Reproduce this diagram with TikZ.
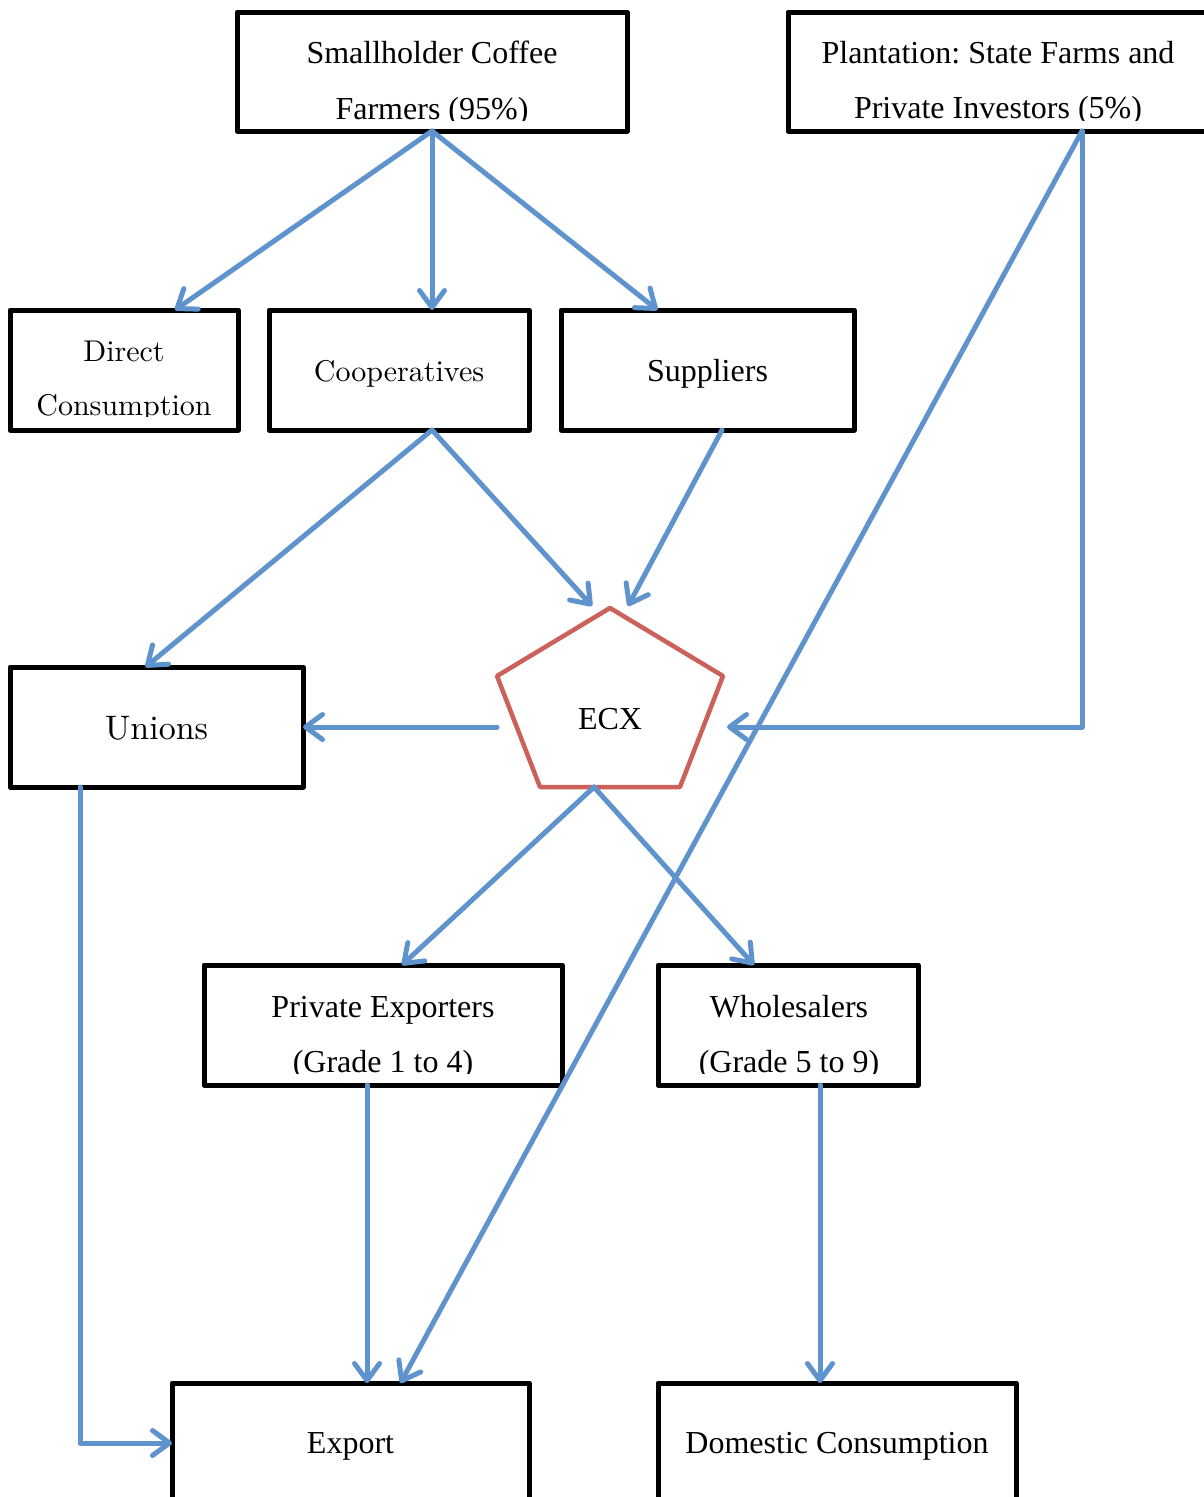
\documentclass[tikz,border=0pt]{standalone}
\usepackage{fontspec}
\newfontfamily\tnr{Liberation Serif}
\newfontfamily\lmten{lmroman10-regular.otf}
\usetikzlibrary{arrows.meta,calc}
\definecolor{arrblue}{RGB}{95,147,205}
\definecolor{ecxred}{RGB}{203,97,90}
\frenchspacing
\begin{document}
\begin{tikzpicture}[x=1pt,y=-1pt,
  box/.style={draw=black,line width=5pt,line join=round,rectangle,inner sep=0pt,outer sep=0pt},
  txt/.style={anchor=base,inner sep=0pt,outer sep=0pt,font=\tnr\fontsize{32}{38}\selectfont},
  lmtxt/.style={anchor=base,inner sep=0pt,outer sep=0pt,font=\lmten\fontsize{30}{36}\selectfont},
  arr/.style={draw=arrblue,line width=5pt,line cap=round,line join=round,
    -{Straight Barb[round,length=17pt,width=25pt]}}]
\useasboundingbox[fill=white] (0,0) rectangle (1204,1497);

% boxes
\node[box,minimum width=390pt,minimum height=119pt] (small) at (432,71.5) {};
\node[box,minimum width=426pt,minimum height=119pt] (plant) at (1001,71.5) {};
\node[box,minimum width=228pt,minimum height=120pt] (direct) at (124,370) {};
\node[box,minimum width=260pt,minimum height=120pt] (coop) at (399,370) {};
\node[box,minimum width=293pt,minimum height=120pt] (supp) at (707.5,370) {};
\node[box,minimum width=293pt,minimum height=120pt] (unions) at (156.5,727) {};
\node[box,minimum width=358pt,minimum height=120pt] (priv) at (383,1025) {};
\node[box,minimum width=260pt,minimum height=120pt] (whole) at (788,1025) {};
\node[box,minimum width=357pt,minimum height=127pt] (export) at (350.5,1446.5) {};
\node[box,minimum width=358pt,minimum height=127pt] (domestic) at (837,1446.5) {};

% ECX pentagon
\coordinate (ecxtop) at (610,608);
\coordinate (ecxul) at (497,676);
\coordinate (ecxur) at (723,676);
\coordinate (ecxll) at (540,787);
\coordinate (ecxlr) at (680,787);
\draw[draw=ecxred,line width=4.5pt,line join=round] (ecxtop) -- (ecxur) -- (ecxlr) -- (ecxll) -- (ecxul) -- cycle;
\coordinate (ecxin) at (727,727);
\coordinate (ecxout) at (497,727);
\coordinate (ecxbot) at (594,787);

% texts
\begin{scope}
\clip (239,14) rectangle (625,120);
\node[txt] (smallt1) at (432,63) {Smallholder Coffee};
\node[txt] (smallt2) at (432,119) {Farmers (95\%)};
\end{scope}
\begin{scope}
\clip (790,14) rectangle (1204,120);
\node[txt] (plantt1) at (998,63) {Plantation: State Farms and};
\node[txt] (plantt2) at (998,118) {Private Investors (5\%)};
\end{scope}
\begin{scope}
\clip (12,312) rectangle (236,416);
\node[lmtxt] (directt1) at (124,361) {Direct};
\node[lmtxt] (directt2) at (124,415) {Consumption};
\end{scope}
\node[lmtxt] (coopt) at (399,381) {Cooperatives};
\node[txt] (suppt) at (707.5,381) {Suppliers};
\node[lmtxt,font=\lmten\fontsize{34}{40}\selectfont] (unionst) at (156.5,739) {Unions};
\node[txt] (ecx) at (610,729) {ECX};
\begin{scope}
\clip (206,967) rectangle (560,1073);
\node[txt] (privt1) at (383,1017) {Private Exporters};
\node[txt] (privt2) at (383,1072) {(Grade 1 to 4)};
\end{scope}
\begin{scope}
\clip (660,967) rectangle (916,1073);
\node[txt] (wholet1) at (789,1017) {Wholesalers};
\node[txt] (wholet2) at (789,1072) {(Grade 5 to 9)};
\end{scope}
\node[txt] (exportt) at (350.5,1453) {Export};
\node[txt] (domestict) at (837,1453) {Domestic Consumption};

% connectors
\draw[arr] (small.south) -- ([xshift=51pt]direct.north);
\draw[arr] (small.south) -- ([xshift=33pt]coop.north);
\draw[arr] (small.south) -- ([xshift=-50pt]supp.north);
\draw[arr] ([xshift=33pt]coop.south) -- ([xshift=-11pt]unions.north);
\draw[arr] ([xshift=33pt]coop.south) -- ([xshift=-18pt,yshift=2pt]ecxtop);
\draw[arr] ([xshift=14.5pt]supp.south) -- ([xshift=18pt,yshift=2pt]ecxtop);
\draw[arr] ([xshift=81pt]plant.south) |- (ecxin);
\draw[arr] ([xshift=81pt]plant.south) -- ([xshift=50pt]export.north);
\draw[arr] (ecxout) -- (unions.east);
\draw[arr] (ecxbot) -- ([xshift=19pt]priv.north);
\draw[arr] (ecxbot) -- ([xshift=-34pt]whole.north);
\draw[arr] ([xshift=-76.5pt]unions.south) |- ([yshift=3.5pt]export.west);
\draw[arr] ([xshift=-16pt]priv.south) -- ([xshift=16.5pt]export.north);
\draw[arr] ([xshift=32pt]whole.south) -- ([xshift=-17pt]domestic.north);
\end{tikzpicture}
\end{document}
